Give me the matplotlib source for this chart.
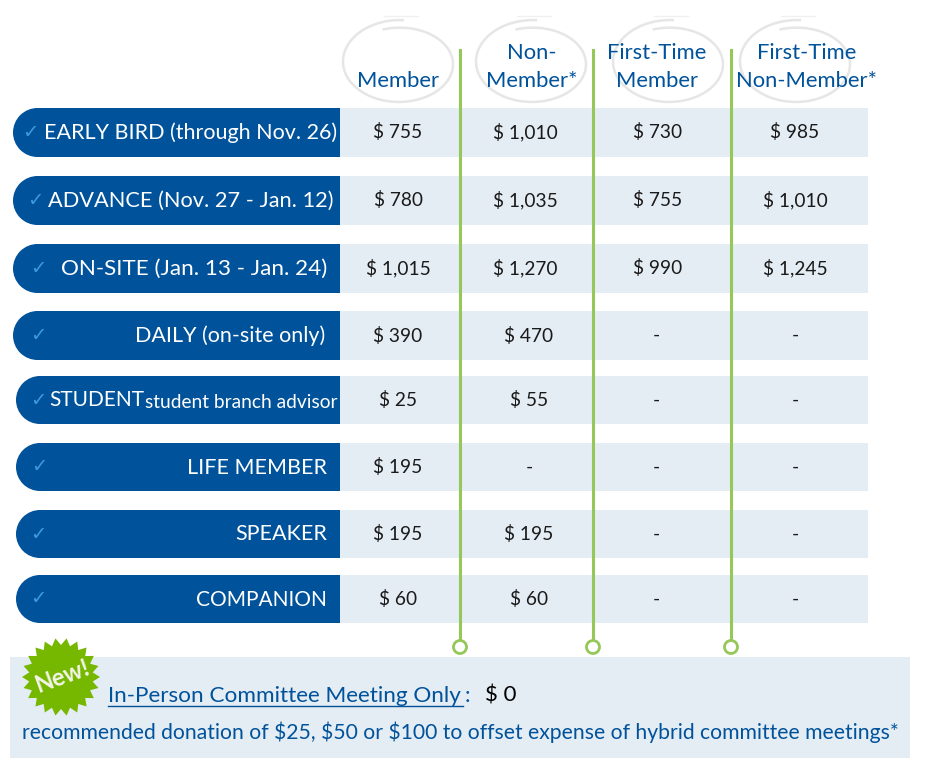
import numpy as np
import matplotlib
matplotlib.use('Agg')
import matplotlib.pyplot as plt
from matplotlib.patches import Rectangle, Circle, Polygon

plt.rcParams['font.family'] = ['Lato', 'DejaVu Sans']

BLUE = '#00529b'
LIGHT = '#e4ecf4'
GREEN = '#95c858'
CHECK = '#3d9ad9'

headers = ['Member', 'Non-\nMember*', 'First-Time\nMember', 'First-Time\nNon-Member*']
row_labels = ['EARLY BIRD (through Nov. 26)', 'ADVANCE (Nov. 27 - Jan. 12)', 'ON-SITE (Jan. 13 - Jan. 24)',
              'DAILY (on-site only)', 'STUDENT', 'LIFE MEMBER', 'SPEAKER', 'COMPANION']
member = [755, 780, 1015, 390, 25, 195, 195, 60]
non_member = [1010, 1035, 1270, 470, 55, None, 195, 60]
first_member = [730, 755, 990, None, None, None, None, None]
first_non_member = [985, 1010, 1245, None, None, None, None, None]

# pixel layout, y goes down
row_top = [108, 176, 244, 311, 376, 443, 510, 575]
row_h = [49, 49, 49, 49, 48, 48, 48, 48]
row_left = [13, 13, 13, 13, 16, 16, 16, 16]
label_right = [337, 334, 327, 325, 144, 327, 327, 327]
label_fs = [15.5, 15.7, 16.2, 15.5, 15, 15.5, 15.5, 15]
check_x = [30, 35, 38, 38, 38, 39, 38, 38]
col_x = [398, 525, 658, 795]
col_x_low = [398, 529, 656, 795]


def price(v):
    return '-' if v is None else f'$ {v:,}'


fig = plt.figure(figsize=(9.36, 7.58), dpi=100)
ax = fig.add_axes([0, 0, 1, 1])
ax.set_xlim(0, 936)
ax.set_ylim(758, 0)
ax.axis('off')

# hand drawn circles behind the headers
t = np.radians(np.linspace(-105, 275, 120))
for cx in [398, 531, 668, 795]:
    ry = np.linspace(38, 40, 120)
    cy = np.linspace(66, 60, 120)
    ax.plot(cx + 55 * np.cos(t), cy + ry * np.sin(t), color='#e6e6e6', lw=1.8, zorder=1)
    ax.plot([cx - 14, cx + 20], [16, 16], color='#f0f0f0', lw=1, zorder=1)

for i, (top, h, l) in enumerate(zip(row_top, row_h, row_left)):
    r = h / 2
    ax.add_patch(Rectangle((340, top), 528, h, fc=LIGHT, ec='none', zorder=1))
    ax.add_patch(Rectangle((l + r, top), 340 - l - r, h, fc=BLUE, ec='none', zorder=2))
    ax.add_patch(Circle((l + r, top + r), r, fc=BLUE, ec='none', zorder=2))
    ax.text(check_x[i], top + r, '\u2713', color=CHECK, fontsize=14, fontweight='bold', ha='center', va='center', zorder=4)
    ax.text(label_right[i], top + r + 0.5, row_labels[i], color='white', fontsize=label_fs[i], ha='right', va='center', zorder=4)
    xs = col_x if i < 3 else col_x_low
    for x, col in zip(xs, [member, non_member, first_member, first_non_member]):
        ax.text(x, top + r, price(col[i]), color='#1a1a1a', fontsize=13.8, ha='center', va='center', zorder=4)

ax.text(145, 402, 'student branch advisor', color='white', fontsize=13.8, ha='left', va='center', zorder=4)

for x, h in zip([398, 532, 657, 807], headers):
    y = 67 if '\n' in h else 81
    ax.text(x, y, h, color=BLUE, fontsize=15.8, ha='center', va='center', linespacing=1.55, zorder=4)

# green dividers
for x in [460, 593, 731]:
    ax.plot([x, x], [50, 640], color=GREEN, lw=2.2, zorder=5)
    ax.add_patch(Circle((x, 647), 6.5, fc='white', ec=GREEN, lw=2, zorder=5))

# bottom panel
ax.add_patch(Rectangle((10, 657), 900, 101, fc=LIGHT, ec='none', zorder=1))
ang = np.linspace(0, 2 * np.pi, 44, endpoint=False)
rad = np.where(np.arange(44) % 2 == 0, 39, 32)
ax.add_patch(Polygon(np.c_[61 + rad * np.cos(ang), 677 + rad * np.sin(ang)], fc='#76b800', ec='none', zorder=3))
ax.text(62, 676, 'New!', color='#f4f4ea', fontsize=17, fontweight='bold', rotation=20, ha='center', va='center', zorder=4)
ax.text(108, 696, 'In-Person Committee Meeting Only', color=BLUE, fontsize=16.2, ha='left', va='center', zorder=4)
ax.plot([108, 463], [706, 706], color=BLUE, lw=1, zorder=4)
ax.text(465, 696, ':', color=BLUE, fontsize=16, ha='left', va='center', zorder=4)
ax.text(485, 696, '$ 0', color='black', fontsize=16, ha='left', va='center', zorder=4)
ax.text(22, 732, 'recommended donation of $25, $50 or $100 to offset expense of hybrid committee meetings*',
        color=BLUE, fontsize=15.2, ha='left', va='center', zorder=4)

fig.savefig('out.png', dpi=100)
